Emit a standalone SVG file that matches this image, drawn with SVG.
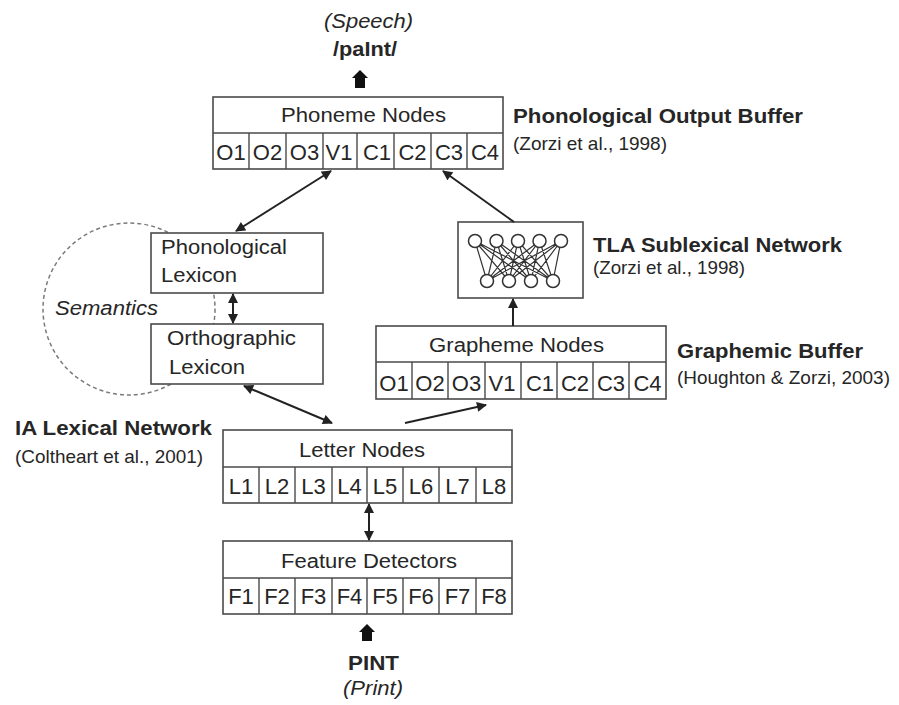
<svg xmlns="http://www.w3.org/2000/svg" width="899" height="705" viewBox="0 0 899 705">
  <defs>
    <style>
      .box { fill: #ffffff; stroke: #4a4a4a; stroke-width: 1.6; }
      .div { stroke: #4a4a4a; stroke-width: 1.4; fill: none; }
      .t { font-family: "Liberation Sans", Arial, sans-serif; fill: #262626; }
      .h { font-size: 20px; }
      .c { font-size: 22px; text-anchor: middle; }
      .cite { font-size: 19px; }
      .b { font-weight: bold; }
      .i { font-style: italic; }
      .conn { stroke: #222222; stroke-width: 2; fill: none; }
      .net { stroke: #333333; stroke-width: 1.2; fill: none; }
      .node { fill: #ffffff; stroke: #333333; stroke-width: 1.5; }
      .thick { fill: #111111; }
    </style>
    <marker id="ah" viewBox="0 0 10 10" refX="9" refY="5" markerWidth="5.5" markerHeight="5" markerUnits="strokeWidth" orient="auto-start-reverse">
      <path d="M0,0 L10,5 L0,10 Z" fill="#222222"/>
    </marker>
  </defs>

  <rect width="899" height="705" fill="#ffffff"/>

  <!-- Semantics (dashed circle behind lexicons) -->
  <g id="semantics">
    <circle cx="129" cy="309" r="86" fill="none" stroke="#7a7a7a" stroke-width="1.5" stroke-dasharray="4 3"/>
    <text class="t h i" x="55" y="315" textLength="103" lengthAdjust="spacingAndGlyphs">Semantics</text>
  </g>

  <!-- Speech output -->
  <g id="speech">
    <text class="t h i" x="324" y="28" textLength="89" lengthAdjust="spacingAndGlyphs">(Speech)</text>
    <text class="t h b" x="333" y="56" textLength="64" lengthAdjust="spacingAndGlyphs">/paInt/</text>
  </g>

  <!-- Phonological Output Buffer -->
  <g id="phoneme-nodes">
    <rect class="box" x="213" y="97" width="290" height="72"/>
    <line class="div" x1="213" y1="133" x2="503" y2="133"/>
    <path class="div" d="M249,133V169 M286,133V169 M323,133V169 M357,133V169 M394,133V169 M431,133V169 M467,133V169"/>
    <text class="t h" x="281" y="122" textLength="165" lengthAdjust="spacingAndGlyphs">Phoneme Nodes</text>
    <text class="t c" x="231" y="160">O1</text>
    <text class="t c" x="267.5" y="160">O2</text>
    <text class="t c" x="304.5" y="160">O3</text>
    <text class="t c" x="339" y="160">V1</text>
    <text class="t c" x="377" y="160">C1</text>
    <text class="t c" x="412.5" y="160">C2</text>
    <text class="t c" x="449" y="160">C3</text>
    <text class="t c" x="485" y="160">C4</text>
  </g>
  <g id="label-phonological-output-buffer">
    <text class="t h b" x="513" y="123" textLength="290" lengthAdjust="spacingAndGlyphs">Phonological Output Buffer</text>
    <text class="t cite" x="513" y="150" textLength="154" lengthAdjust="spacingAndGlyphs">(Zorzi et al., 1998)</text>
  </g>

  <!-- TLA Sublexical Network -->
  <g id="tla-network">
    <rect class="box" x="458" y="222" width="125" height="76"/>
    <g class="net">
      <path d="M475,241L487,281 M475,241L509,281 M475,241L531,281 M475,241L553,281
               M496.5,241L487,281 M496.5,241L509,281 M496.5,241L531,281 M496.5,241L553,281
               M518,241L487,281 M518,241L509,281 M518,241L531,281 M518,241L553,281
               M539.5,241L487,281 M539.5,241L509,281 M539.5,241L531,281 M539.5,241L553,281
               M561,241L487,281 M561,241L509,281 M561,241L531,281 M561,241L553,281"/>
    </g>
    <circle class="node" cx="475" cy="241" r="6.5"/>
    <circle class="node" cx="496.5" cy="241" r="6.5"/>
    <circle class="node" cx="518" cy="241" r="6.5"/>
    <circle class="node" cx="539.5" cy="241" r="6.5"/>
    <circle class="node" cx="561" cy="241" r="6.5"/>
    <circle class="node" cx="487" cy="281" r="6.5"/>
    <circle class="node" cx="509" cy="281" r="6.5"/>
    <circle class="node" cx="531" cy="281" r="6.5"/>
    <circle class="node" cx="553" cy="281" r="6.5"/>
  </g>
  <g id="label-tla">
    <text class="t h b" x="593" y="252" textLength="249" lengthAdjust="spacingAndGlyphs">TLA Sublexical Network</text>
    <text class="t cite" x="593" y="274" textLength="152" lengthAdjust="spacingAndGlyphs">(Zorzi et al., 1998)</text>
  </g>

  <!-- Phonological Lexicon -->
  <g id="phonological-lexicon">
    <rect class="box" x="151" y="233" width="172" height="60"/>
    <text class="t h" x="161" y="254" textLength="126" lengthAdjust="spacingAndGlyphs">Phonological</text>
    <text class="t h" x="161" y="282" textLength="76" lengthAdjust="spacingAndGlyphs">Lexicon</text>
  </g>

  <!-- Orthographic Lexicon -->
  <g id="orthographic-lexicon">
    <rect class="box" x="151" y="324" width="172" height="60"/>
    <text class="t h" x="167" y="345" textLength="129" lengthAdjust="spacingAndGlyphs">Orthographic</text>
    <text class="t h" x="169" y="374" textLength="76" lengthAdjust="spacingAndGlyphs">Lexicon</text>
  </g>

  <!-- Graphemic Buffer -->
  <g id="grapheme-nodes">
    <rect class="box" x="376" y="326" width="290" height="73"/>
    <line class="div" x1="376" y1="362" x2="666" y2="362"/>
    <path class="div" d="M412,362V399 M448,362V399 M485,362V399 M521,362V399 M557,362V399 M593,362V399 M629,362V399"/>
    <text class="t h" x="429" y="352" textLength="175" lengthAdjust="spacingAndGlyphs">Grapheme Nodes</text>
    <text class="t c" x="394" y="391">O1</text>
    <text class="t c" x="430" y="391">O2</text>
    <text class="t c" x="466.5" y="391">O3</text>
    <text class="t c" x="502" y="391">V1</text>
    <text class="t c" x="540" y="391">C1</text>
    <text class="t c" x="575" y="391">C2</text>
    <text class="t c" x="611" y="391">C3</text>
    <text class="t c" x="647.5" y="391">C4</text>
  </g>
  <g id="label-graphemic-buffer">
    <text class="t h b" x="677" y="358" textLength="186" lengthAdjust="spacingAndGlyphs">Graphemic Buffer</text>
    <text class="t cite" x="677" y="384" textLength="213" lengthAdjust="spacingAndGlyphs">(Houghton &amp; Zorzi, 2003)</text>
  </g>

  <!-- IA Lexical Network label -->
  <g id="label-ia-lexical-network">
    <text class="t h b" x="15" y="435" textLength="197" lengthAdjust="spacingAndGlyphs">IA Lexical Network</text>
    <text class="t cite" x="15" y="463" textLength="188" lengthAdjust="spacingAndGlyphs">(Coltheart et al., 2001)</text>
  </g>

  <!-- Letter Nodes -->
  <g id="letter-nodes">
    <rect class="box" x="223" y="430" width="289" height="73"/>
    <line class="div" x1="223" y1="467" x2="512" y2="467"/>
    <path class="div" d="M259,467V503 M295,467V503 M332,467V503 M367,467V503 M403,467V503 M439,467V503 M476,467V503"/>
    <text class="t h" x="299" y="457" textLength="126" lengthAdjust="spacingAndGlyphs">Letter Nodes</text>
    <text class="t c" x="241" y="494">L1</text>
    <text class="t c" x="277" y="494">L2</text>
    <text class="t c" x="313.5" y="494">L3</text>
    <text class="t c" x="349.5" y="494">L4</text>
    <text class="t c" x="385" y="494">L5</text>
    <text class="t c" x="421" y="494">L6</text>
    <text class="t c" x="457.5" y="494">L7</text>
    <text class="t c" x="494" y="494">L8</text>
  </g>

  <!-- Feature Detectors -->
  <g id="feature-detectors">
    <rect class="box" x="223" y="541" width="289" height="73"/>
    <line class="div" x1="223" y1="578" x2="512" y2="578"/>
    <path class="div" d="M259,578V614 M295,578V614 M332,578V614 M367,578V614 M403,578V614 M439,578V614 M476,578V614"/>
    <text class="t h" x="281" y="568" textLength="176" lengthAdjust="spacingAndGlyphs">Feature Detectors</text>
    <text class="t c" x="241" y="604">F1</text>
    <text class="t c" x="277" y="604">F2</text>
    <text class="t c" x="313.5" y="604">F3</text>
    <text class="t c" x="349.5" y="604">F4</text>
    <text class="t c" x="385" y="604">F5</text>
    <text class="t c" x="421" y="604">F6</text>
    <text class="t c" x="457.5" y="604">F7</text>
    <text class="t c" x="494" y="604">F8</text>
  </g>

  <!-- Print input -->
  <g id="print">
    <text class="t h b" x="348" y="670" textLength="51" lengthAdjust="spacingAndGlyphs">PINT</text>
    <text class="t h i" x="343" y="695" textLength="60" lengthAdjust="spacingAndGlyphs">(Print)</text>
  </g>

  <!-- Connectors -->
  <g id="connectors">
    <path class="thick" d="M360,70 L368,78 L365,78 L365,88 L355,88 L355,78 L352,78 Z"/>
    <path class="thick" d="M367,624 L375,632 L372,632 L372,641 L362,641 L362,632 L359,632 Z"/>
    <line class="conn" x1="236" y1="231" x2="331" y2="171" marker-start="url(#ah)" marker-end="url(#ah)"/>
    <line class="conn" x1="514" y1="222" x2="443" y2="171" marker-end="url(#ah)"/>
    <line class="conn" x1="233" y1="294" x2="233" y2="323" marker-start="url(#ah)" marker-end="url(#ah)"/>
    <line class="conn" x1="513" y1="326" x2="513" y2="299" marker-end="url(#ah)"/>
    <line class="conn" x1="244" y1="386" x2="332" y2="423" marker-start="url(#ah)" marker-end="url(#ah)"/>
    <line class="conn" x1="405" y1="423" x2="486" y2="405" marker-end="url(#ah)"/>
    <line class="conn" x1="369" y1="504" x2="369" y2="540" marker-start="url(#ah)" marker-end="url(#ah)"/>
  </g>
</svg>
